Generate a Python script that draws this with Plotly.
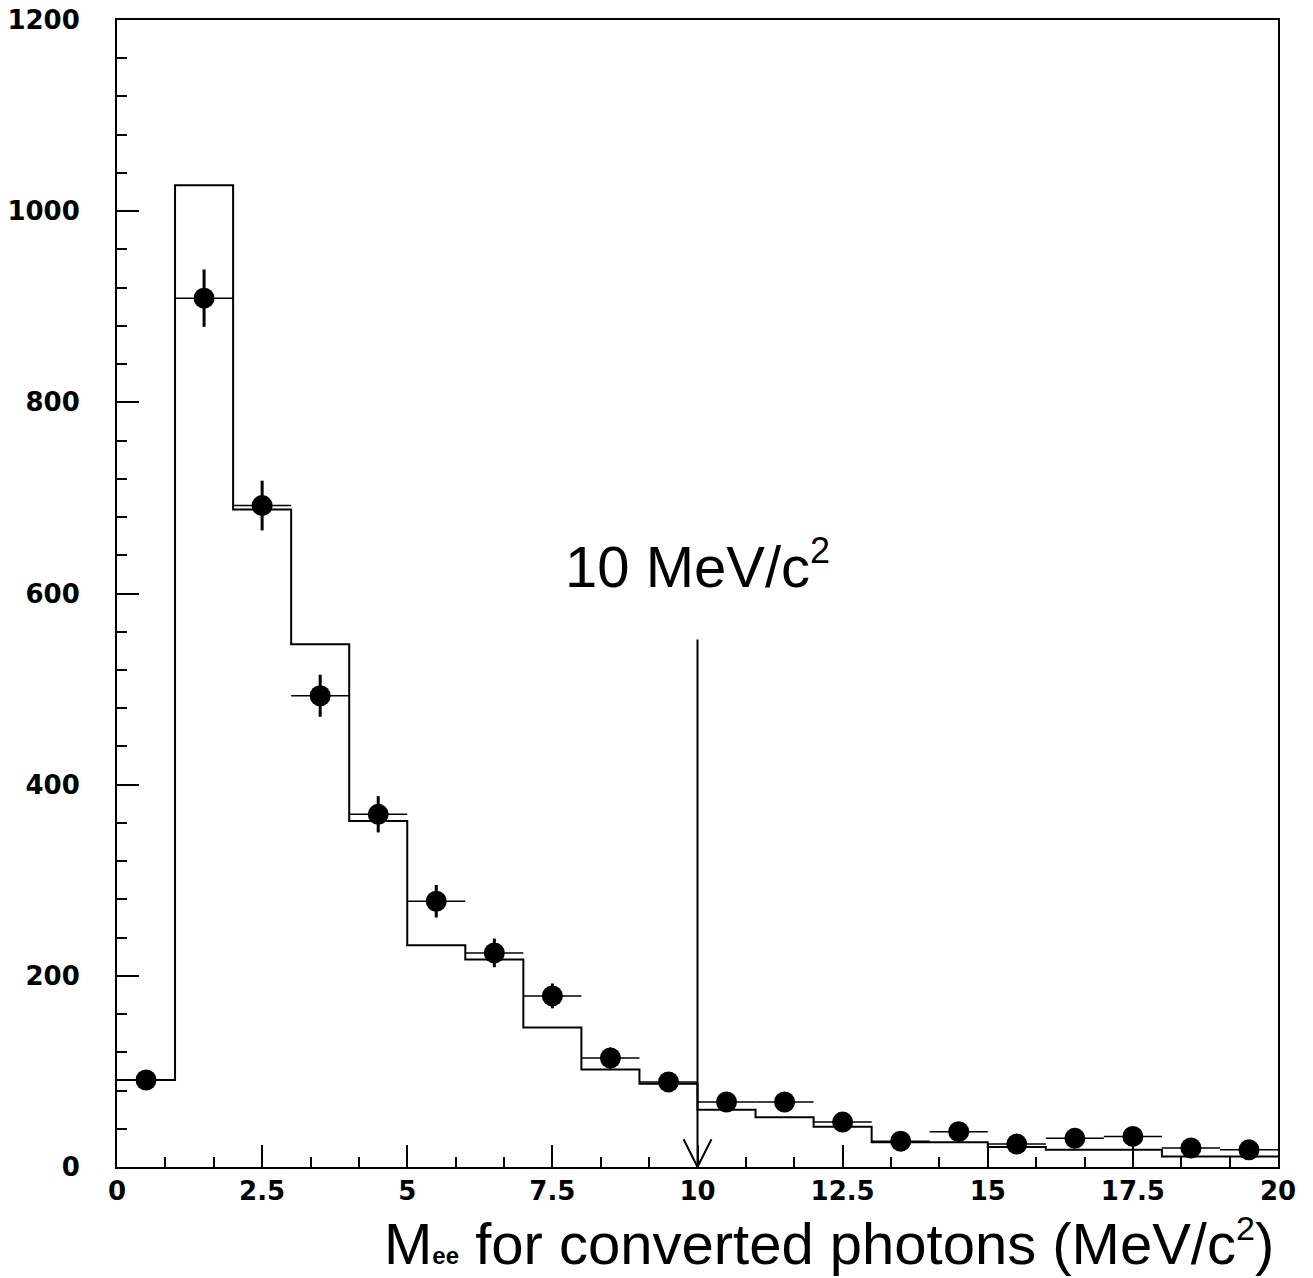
import plotly.graph_objects as go

# Bin edges (MeV/c^2) and MC histogram contents
bin_edges = [0, 1, 2, 3, 4, 5, 6, 7, 8, 9, 10, 11, 12, 13, 14, 15, 16, 17, 18, 19, 20]
mc_counts = [91, 1027, 688, 547, 362, 232, 217, 146, 102, 87,
             60, 52, 42, 26, 26, 21, 18, 18, 11, 11]

# Data points (bin centres), counts and vertical errors
data_x = [0.5, 1.5, 2.5, 3.5, 4.5, 5.5, 6.5, 7.5, 8.5, 9.5,
          10.5, 11.5, 12.5, 13.5, 14.5, 15.5, 16.5, 17.5, 18.5, 19.5]
data_y = [91, 909, 692, 493, 369, 278, 224, 179, 114, 89,
          68, 68, 47, 27, 37, 24, 30, 32, 20, 18]
data_err = [9, 30, 26, 22, 19, 17, 15, 13, 11, 9,
            8, 8, 7, 5, 6, 5, 5, 6, 4, 4]
half_width = [0.5] * 20

# Cut marker
cut_x = 10
cut_top = 552
cut_label = "10 MeV/c<sup><span style='font-size:36px'>2</span></sup>"
label_y = 630

x_ticks = [0, 2.5, 5, 7.5, 10, 12.5, 15, 17.5, 20]
x_tick_text = ["0", "2.5", "5", "7.5", "10", "12.5", "15", "17.5", "20"]
y_ticks = [0, 200, 400, 600, 800, 1000, 1200]
y_tick_text = ["0", "200", "400", "600", "800", "1000", "1200"]

fig = go.Figure()

fig.add_trace(go.Scatter(
    x=bin_edges, y=mc_counts + [mc_counts[-1]],
    mode="lines", line=dict(shape="hv", color="black", width=2),
    showlegend=False, hoverinfo="skip"))

fig.add_trace(go.Scatter(
    x=data_x, y=data_y, mode="markers",
    marker=dict(symbol="circle", size=21, color="black"),
    error_y=dict(type="data", array=data_err, color="black", thickness=3, width=0),
    error_x=dict(type="data", array=half_width, color="black", thickness=1.5, width=0),
    showlegend=False))

# Arrow: vertical line plus open V head
fig.add_trace(go.Scatter(
    x=[cut_x, cut_x], y=[cut_top, 0], mode="lines",
    line=dict(color="black", width=2), showlegend=False, hoverinfo="skip"))
fig.add_trace(go.Scatter(
    x=[cut_x - 0.24, cut_x, cut_x + 0.24], y=[29, 0, 29], mode="lines",
    line=dict(color="black", width=2), showlegend=False, hoverinfo="skip"))

fig.add_annotation(
    x=cut_x, y=label_y, text=cut_label, showarrow=False,
    font=dict(family="Liberation Sans, Arial", size=58, color="black"),
    xanchor="center", yanchor="middle")

fig.add_annotation(
    x=0.9985, xref="paper", y=-0.066, yref="paper",
    text=("M<span style='font-size:24px;font-weight:bold'>ee</span>"
          " for converted photons (MeV/c<sup><span style='font-size:34px'>2</span></sup>)"),
    showarrow=False, xanchor="right", yanchor="middle",
    font=dict(family="Liberation Sans, Arial", size=58, color="black"))

axis_common = dict(
    showline=True, linecolor="black", linewidth=2, mirror=True,
    showgrid=False, zeroline=False, ticks="inside", tickcolor="black",
    tickwidth=2, ticklen=22, automargin=False,
    tickfont=dict(family="DejaVu Sans", size=26, color="black", weight="bold"))

fig.update_xaxes(
    range=[0, 20], tickvals=x_ticks, ticktext=x_tick_text,
    ticklabelstandoff=0,
    minor=dict(dtick=2.5 / 3, tick0=0, ticks="inside", ticklen=10, tickwidth=1.5, tickcolor="black"),
    **axis_common)
fig.update_yaxes(
    range=[0, 1200], tickvals=y_ticks, ticktext=y_tick_text,
    ticklabelstandoff=30,
    minor=dict(dtick=40, tick0=0, ticks="inside", ticklen=10, tickwidth=1.5, tickcolor="black"),
    **axis_common)

fig.update_layout(
    width=1313, height=1278,
    margin=dict(l=117, r=35, t=20, b=111),
    plot_bgcolor="white", paper_bgcolor="white")

fig.write_html("out.html")
